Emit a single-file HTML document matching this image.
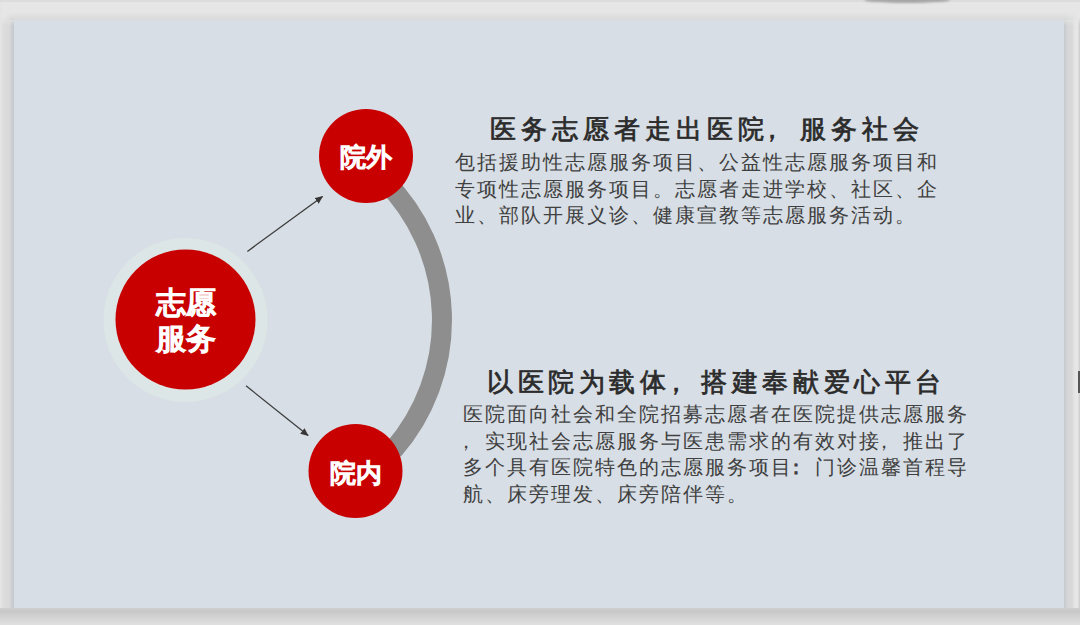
<!DOCTYPE html>
<html><head><meta charset="utf-8">
<style>
html,body{margin:0;padding:0;}
body{width:1080px;height:625px;overflow:hidden;background:#e6e6e6;position:relative;font-family:"Liberation Serif",serif;}
.abs{position:absolute;}
.slide{position:absolute;left:14px;top:20px;width:1050px;height:588px;background:#d7dee5;}
svg{position:absolute;left:0;top:0;}
.lbl{position:absolute;color:#fff;font-family:"Liberation Sans",sans-serif;font-weight:normal;-webkit-text-stroke:1.6px #fff;white-space:nowrap;text-align:center;}
.title{position:absolute;font-weight:normal;-webkit-text-stroke:0.75px #2b2b2b;color:#2b2b2b;font-size:26px;letter-spacing:6.4px;white-space:nowrap;}
.body{position:absolute;color:#404040;font-size:20px;line-height:26.7px;letter-spacing:2.02px;white-space:nowrap;}
</style></head>
<body>
<!-- frame -->
<div class="abs" style="left:0;top:0;width:1080px;height:2px;background:#dcdcdc;"></div>
<div class="abs" style="left:4px;top:12px;width:1074px;height:8px;background:linear-gradient(to bottom,rgba(0,0,0,0),rgba(0,0,0,0.055));-webkit-mask-image:linear-gradient(to right,transparent 0,#000 8px,#000 1062px,transparent 1074px);"></div>
<div class="abs" style="left:0;top:2px;width:2px;height:623px;background:#e3e4e6;"></div>
<div class="abs" style="left:2px;top:18px;width:12px;height:600px;-webkit-mask-image:linear-gradient(to bottom,transparent 0,#000 7px);background:linear-gradient(to right,#dedede 0%,#d9d9d9 60%,#c3c7cc 100%);"></div>
<div class="abs" style="left:1064px;top:18px;width:16px;height:607px;-webkit-mask-image:linear-gradient(to bottom,transparent 0,#000 7px);background:linear-gradient(to right,#c6c9cd 0px,#d6d7d8 4px,#d9d9d9 8px,#e6e6e6 11px,#e7e7e7 14px,#d0d0d0 15px,#d0d0d0 16px);"></div>
<div class="abs" style="left:0;top:608px;width:1080px;height:17px;background:linear-gradient(to bottom,#d0d0d0 0px,#c7c7c7 3px,#cfcfcf 7px,#d8d8d8 12px,#e0e0e0 17px);"></div>
<div class="abs" style="left:864px;top:-3px;width:86px;height:6px;border-radius:50%;background:#a6a6a6;filter:blur(1.3px);"></div>
<div class="abs" style="left:1078px;top:371px;width:2px;height:22px;background:#555;"></div>

<div class="slide"></div>
<svg width="1080" height="625" viewBox="0 0 1080 625">
  <defs>
    <marker id="ah" markerWidth="8" markerHeight="7" refX="7.5" refY="3.5" orient="auto" markerUnits="userSpaceOnUse">
      <path d="M0,0 L8,3.5 L0,7 z" fill="#363636"/>
    </marker>
  </defs>
  <path d="M384,180 A198,198 0 0 1 393.3,450" fill="none" stroke="#8e8e8e" stroke-width="20"/>
  <circle cx="185.5" cy="320" r="82" fill="#dde6e7"/>
  <circle cx="185.5" cy="319.5" r="70" fill="#c80000"/>
  <circle cx="366" cy="156" r="47" fill="#c80000"/>
  <circle cx="355.5" cy="471" r="47" fill="#c80000"/>
  <line x1="247.4" y1="251.4" x2="322.6" y2="196.4" stroke="#3a3a3a" stroke-width="1.25" marker-end="url(#ah)"/>
  <line x1="246" y1="385.8" x2="308.2" y2="435.6" stroke="#3a3a3a" stroke-width="1.25" marker-end="url(#ah)"/>
</svg>
<div class="lbl" style="left:141px;top:285px;width:90px;font-size:30px;line-height:36px;">志愿<br>服务</div>
<div class="lbl" style="left:326px;top:142px;width:80px;font-size:26px;line-height:30px;">院外</div>
<div class="lbl" style="left:316px;top:458px;width:80px;font-size:26px;line-height:30px;">院内</div>

<div class="title" style="left:490px;top:112px;letter-spacing:5.0px;">医务志愿者走出医院<span style="position:relative;left:-10px;">，</span>服务社会</div>
<div class="body" style="left:455px;top:149px;">包括援助性志愿服务项目、公益性志愿服务项目和<br>专项性志愿服务项目。志愿者走进学校、社区、企<br>业、部队开展义诊、健康宣教等志愿服务活动。</div>

<div class="title" style="left:487px;top:365px;letter-spacing:4.6px;">以医院为载体<span style="position:relative;left:-8px;">，</span>搭建奉献爱心平台</div>
<div class="body" style="left:463px;top:401px;">医院面向社会和全院招募志愿者在医院提供志愿服务<br><span style="position:relative;left:-7px;">，</span>实现社会志愿服务与医患需求的有效对接<span style="position:relative;left:-7px;">，</span>推出了<br>多个具有医院特色的志愿服务项目<span style="position:relative;left:-7px;-webkit-text-stroke:0.8px #404040;">：</span>门诊温馨首程导<br>航、床旁理发、床旁陪伴等。</div>
</body></html>
